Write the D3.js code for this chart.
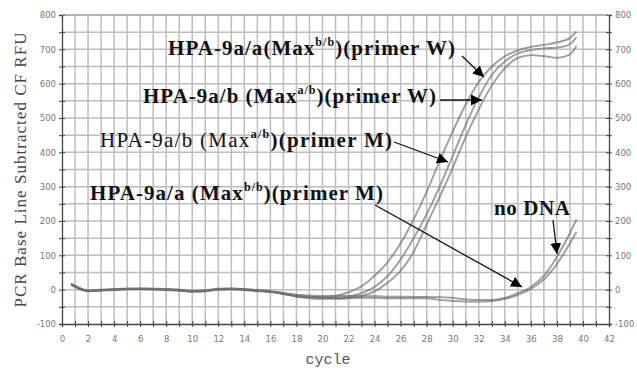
<!DOCTYPE html>
<html><head><meta charset="utf-8">
<script src="https://cdn.jsdelivr.net/npm/d3@7"></script>
<style>body{margin:0;background:#fff}svg{display:block}</style>
</head><body>
<svg id="c" width="637" height="374"></svg>
<script>
const cycles = [0.7,1,2,3,4,5,6,7,8,9,10,11,12,13,14,15,16,17,18,19,20,21,22,23,24,25,26,27,28,29,30,31,32,33,34,35,36,37,38,39,39.5];
const wAA = [18,12,-3,-2,0,2,3,2,1,-1,-4,-3,2,3,1,-2,-5,-10,-15,-20,-22,-18,-8,10,40,80,135,205,285,375,460,540,605,650,680,697,707,713,720,733,752];
const wAB = [16,10,-4,-1,1,3,2,1,0,-2,-5,-4,1,2,0,-3,-6,-12,-18,-22,-24,-24,-20,-10,8,40,88,150,220,300,390,480,560,625,665,688,698,703,705,715,735];
const mAB = [15,9,-5,-3,-1,1,2,1,-1,-3,-6,-5,0,1,-1,-4,-7,-12,-20,-25,-27,-27,-25,-18,-5,20,55,110,190,270,355,445,525,595,645,675,683,680,675,685,710];
const mAA = [17,11,-2,0,2,3,4,3,2,0,-3,-2,3,4,2,-1,-4,-10,-15,-17,-18,-18,-18,-19,-19,-20,-20,-21,-21,-22,-24,-28,-30,-30,-24,-10,8,40,95,165,205];
const noDNA = [14,8,-4,-2,0,2,2,1,0,-2,-5,-4,1,2,0,-3,-6,-12,-20,-22,-23,-23,-24,-24,-24,-25,-25,-25,-25,-30,-33,-35,-35,-33,-27,-15,2,30,75,135,168];
const xTicks = d3.range(0,43,2);
const yTicks = d3.range(-100,801,100);

const svg = d3.select('#c');
const x = d3.scaleLinear().domain([0,42]).range([62,609]);
const y = d3.scaleLinear().domain([-100,800]).range([324,15]);

// grid
const g = svg.append('g');
g.selectAll('.vg').data(d3.range(1,42)).join('line')
  .attr('x1',d=>x(d)).attr('x2',d=>x(d)).attr('y1',y(800)).attr('y2',y(-100))
  .attr('stroke','#bdbdbd').attr('stroke-width',1.5);
g.selectAll('.hg').data(d3.range(-50,801,50)).join('line')
  .attr('x1',x(0)).attr('x2',x(42)).attr('y1',d=>y(d)).attr('y2',d=>y(d))
  .attr('stroke','#bdbdbd').attr('stroke-width',1.5);

// axes
const axB = svg.append('g').attr('transform',`translate(0,${y(-100)})`)
  .call(d3.axisBottom(x).tickValues(d3.range(0,43,1)).tickSize(3).tickFormat(d=>xTicks.includes(d)?d:''));
axB.selectAll('.tick line').attr('y1',-3).attr('stroke','#444');
const axL = svg.append('g').attr('transform',`translate(${x(0)},0)`)
  .call(d3.axisLeft(y).tickValues(d3.range(-100,801,50)).tickSize(3).tickFormat(d=>yTicks.includes(d)?d:''));
axL.selectAll('.tick line').attr('x1',3).attr('stroke','#444');
const axR = svg.append('g').attr('transform',`translate(${x(42)},0)`)
  .call(d3.axisRight(y).tickValues(d3.range(-100,801,50)).tickSize(3).tickFormat(d=>yTicks.includes(d)?d:''));
axR.selectAll('.tick line').attr('x1',-3).attr('stroke','#444');
[axB,axL,axR].forEach(a=>{
  a.select('.domain').attr('stroke','#444').attr('stroke-width',1.3);
  a.selectAll('text').attr('font-family','DejaVu Sans').attr('font-size',8.5).attr('fill','#777');
});
axB.selectAll('text').attr('dy','1.4em');
svg.append('line').attr('x1',x(0)).attr('x2',x(42)).attr('y1',y(800)).attr('y2',y(800)).attr('stroke','#999');

// titles
svg.append('text').attr('x',328).attr('y',364).attr('text-anchor','middle')
  .attr('font-family','Liberation Mono').attr('font-size',15).attr('fill','#555').text('cycle');
svg.append('text').attr('transform','translate(26,170) rotate(-90)').attr('text-anchor','middle')
  .attr('font-family','Liberation Serif, serif').attr('font-size',17).attr('fill','#444')
  .attr('textLength',275).attr('lengthAdjust','spacing').text('PCR Base Line Subtracted CF RFU');

// curves
const series = [noDNA,mAA,mAB,wAB,wAA];
const line = d3.line().x((d,i)=>x(cycles[i])).y(d=>y(d)).curve(d3.curveMonotoneX);
series.forEach(s=>{
  svg.append('path').attr('d',line(s)).attr('fill','none').attr('stroke','#444').attr('stroke-opacity',0.6).attr('stroke-width',1.8);
  svg.append('path').attr('d',line(s)).attr('fill','none').attr('stroke','#e0e0e0').attr('stroke-opacity',0.6).attr('stroke-width',0.5);
});

// annotations
const defs = svg.append('defs');
defs.append('marker').attr('id','ah').attr('viewBox','0 0 10 10').attr('refX',10).attr('refY',5)
  .attr('markerWidth',11).attr('markerHeight',11).attr('markerUnits','userSpaceOnUse').attr('orient','auto')
  .append('path').attr('d','M0,0L10,5L0,10z').attr('fill','#000');
const labels = [
  {x:168,y:55,w:287,parts:[['HPA-9a/a(Max','b'],['b/b','s'],[')(primer W)','b']],ax:[462,56,484,77]},
  {x:143,y:103,w:293,parts:[['HPA-9a/b (Max','b'],['a/b','s'],[')(primer W)','b']],ax:[440,100,482,100]},
  {x:100,y:147,w:292,parts:[['HPA-9a/b (Max','n'],['a/b','s'],[')(primer M)','b']],ax:[394,142,448,162]},
  {x:90,y:200,w:293,parts:[['HPA-9a/a (Max','b'],['b/b','s'],[')(primer M)','b']],ax:[375,205,522,287]},
  {x:494,y:215,w:76,parts:[['no DNA','b']],ax:[553,220,557,254]}
];
labels.forEach(L=>{
  const t = svg.append('text').attr('x',L.x).attr('y',L.y).attr('font-family','Liberation Serif')
    .attr('font-size',21).attr('fill','#111').attr('textLength',L.w).attr('lengthAdjust','spacing');
  L.parts.forEach((p,i)=>{
    const ts = t.append('tspan').text(p[0]);
    if(p[1]==='s'){ts.attr('font-size',12).attr('dy',-9).attr('font-weight','bold');}
    else {ts.attr('font-weight',p[1]==='b'?'bold':'normal'); if(i>0) ts.attr('dy',9);}
  });
  svg.append('line').attr('x1',L.ax[0]).attr('y1',L.ax[1]).attr('x2',L.ax[2]).attr('y2',L.ax[3])
    .attr('stroke','#111').attr('stroke-width',1.3).attr('marker-end','url(#ah)');
});
</script>
</body></html>
